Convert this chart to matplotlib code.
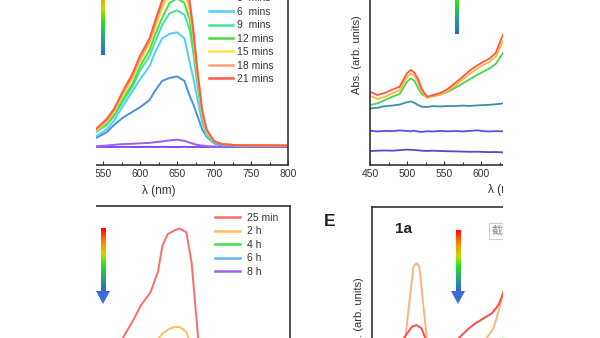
import matplotlib
matplotlib.use("Agg")
import matplotlib.pyplot as plt
import numpy as np
from matplotlib.colors import LinearSegmentedColormap
from matplotlib.patches import Rectangle, Polygon

plt.rcParams['font.family'] = ['Liberation Sans', 'DejaVu Sans']

W, H = 600, 338
INK = '#333333'

# ---- panel B: emission growth, 0-21 mins ----
wl_b = [530, 540, 555, 565, 577, 590, 600, 613, 620, 630, 640, 650, 660, 667, 672, 677, 684, 690, 700, 710, 730, 800]
b_labels = ['0  min', '1  min', '3  mins', '6  mins', '9  mins', '12 mins', '15 mins', '18 mins', '21 mins']
b_colors = ['#8a44ee', '#9a60f0', '#4a8fe6', '#52cdfb', '#3fe69a', '#45dc45', '#ffe23c', '#ffa070', '#ff5a46']
b_series = [
    [0.001, 0.001, 0.0, 0.0, 0.001, 0.0, 0.0, 0.001, 0.0, 0.001, 0.0, 0.0, 0.001, 0.0, 0.0, 0.001, 0.0, 0.0, 0.001, 0.0, 0.0, 0.0],
    [0.004, 0.005, 0.01, 0.015, 0.02, 0.022, 0.025, 0.028, 0.033, 0.038, 0.045, 0.05, 0.042, 0.03, 0.022, 0.015, 0.01, 0.006, 0.003, 0.002, 0.002, 0.002],
    [0.04, 0.06, 0.10, 0.15, 0.20, 0.24, 0.27, 0.32, 0.38, 0.45, 0.47, 0.48, 0.45, 0.35, 0.29, 0.22, 0.12, 0.07, 0.025, 0.01, 0.005, 0.005],
    [0.05, 0.07, 0.12, 0.18, 0.28, 0.38, 0.46, 0.55, 0.64, 0.74, 0.77, 0.78, 0.74, 0.58, 0.47, 0.34, 0.17, 0.08, 0.03, 0.015, 0.01, 0.01],
    [0.07, 0.10, 0.15, 0.21, 0.31, 0.41, 0.52, 0.62, 0.71, 0.83, 0.91, 0.93, 0.90, 0.80, 0.64, 0.44, 0.20, 0.09, 0.035, 0.02, 0.012, 0.01],
    [0.075, 0.105, 0.16, 0.22, 0.33, 0.43, 0.55, 0.66, 0.76, 0.88, 0.98, 1.01, 0.98, 0.87, 0.70, 0.48, 0.22, 0.10, 0.04, 0.02, 0.012, 0.01],
    [0.08, 0.11, 0.17, 0.24, 0.35, 0.46, 0.58, 0.70, 0.80, 0.94, 1.05, 1.09, 1.05, 0.93, 0.75, 0.51, 0.23, 0.10, 0.04, 0.02, 0.012, 0.01],
    [0.085, 0.115, 0.18, 0.25, 0.37, 0.48, 0.60, 0.72, 0.83, 0.97, 1.09, 1.13, 1.09, 0.96, 0.77, 0.53, 0.24, 0.11, 0.04, 0.02, 0.012, 0.01],
    [0.09, 0.12, 0.19, 0.26, 0.38, 0.50, 0.62, 0.74, 0.85, 1.00, 1.13, 1.18, 1.14, 1.00, 0.80, 0.55, 0.25, 0.12, 0.04, 0.02, 0.012, 0.01],
]

# ---- panel C: absorbance, same time series ----
wl_c = [450, 460, 470, 480, 490, 500, 505, 510, 515, 520, 527, 535, 545, 555, 565, 575, 585, 595, 605, 612, 620, 630, 640]
c_colors = ['#6442c4', '#5552e0', '#3a8fa8', '#46d646', '#ffb447', '#ff573c']
c_series = [
    [0.127, 0.130, 0.132, 0.130, 0.135, 0.140, 0.138, 0.136, 0.134, 0.130, 0.128, 0.130, 0.127, 0.125, 0.124, 0.122, 0.120, 0.121, 0.118, 0.117, 0.118, 0.115, 0.116],
    [0.312, 0.305, 0.310, 0.308, 0.314, 0.310, 0.306, 0.312, 0.304, 0.301, 0.307, 0.305, 0.310, 0.306, 0.309, 0.305, 0.310, 0.315, 0.307, 0.305, 0.308, 0.306, 0.310],
    [0.515, 0.520, 0.535, 0.540, 0.550, 0.570, 0.578, 0.565, 0.545, 0.530, 0.527, 0.535, 0.532, 0.537, 0.535, 0.540, 0.537, 0.542, 0.545, 0.548, 0.552, 0.560, 0.565],
    [0.545, 0.560, 0.590, 0.620, 0.645, 0.757, 0.788, 0.765, 0.700, 0.645, 0.615, 0.625, 0.640, 0.665, 0.700, 0.740, 0.780, 0.820, 0.855, 0.880, 0.920, 1.020, 1.120],
    [0.630, 0.600, 0.620, 0.650, 0.680, 0.800, 0.830, 0.810, 0.750, 0.665, 0.610, 0.625, 0.640, 0.670, 0.720, 0.775, 0.830, 0.875, 0.915, 0.940, 0.985, 1.130, 1.240],
    [0.666, 0.636, 0.655, 0.685, 0.712, 0.834, 0.864, 0.840, 0.780, 0.690, 0.621, 0.636, 0.655, 0.690, 0.745, 0.800, 0.860, 0.905, 0.945, 0.970, 1.020, 1.190, 1.300],
]

# ---- panel D: emission decay, 25 min - 8 h ----
wl_d = [530, 560, 575, 591, 600, 613, 623, 629, 636, 645, 652, 661, 668, 677, 690, 710, 750, 800]
d_labels = ['25 min', '2 h', '4 h', '6 h', '8 h']
d_colors = ['#ff6b6b', '#ffbe5c', '#45dc45', '#5ab8f8', '#9b66ea']
d_series = [
    [0.20, 0.38, 0.49, 0.60, 0.67, 0.74, 0.85, 0.99, 1.05, 1.07, 1.08, 1.06, 0.90, 0.49, 0.20, 0.05, 0.01, 0.01],
    [0.08, 0.18, 0.24, 0.31, 0.36, 0.42, 0.49, 0.52, 0.54, 0.555, 0.555, 0.53, 0.44, 0.30, 0.10, 0.03, 0.01, 0.01],
    [0.05, 0.10, 0.13, 0.17, 0.20, 0.23, 0.27, 0.29, 0.30, 0.31, 0.31, 0.30, 0.25, 0.17, 0.06, 0.02, 0.01, 0.01],
    [0.03, 0.06, 0.08, 0.10, 0.12, 0.14, 0.16, 0.17, 0.18, 0.19, 0.19, 0.18, 0.15, 0.10, 0.04, 0.01, 0.005, 0.005],
    [0.01, 0.02, 0.03, 0.04, 0.05, 0.06, 0.07, 0.07, 0.08, 0.08, 0.08, 0.08, 0.06, 0.04, 0.02, 0.01, 0.005, 0.005],
]

# ---- panel E: absorbance of 1a ----
wl_e_orange = [450, 480, 490, 495, 500, 506, 510, 514, 519, 524, 530, 550, 580, 600, 605, 614, 621, 628, 640]
e_orange = [0.30, 0.32, 0.38, 0.484, 0.66, 0.875, 0.893, 0.875, 0.68, 0.484, 0.38, 0.33, 0.36, 0.43, 0.484, 0.538, 0.629, 0.747, 0.95]
wl_e_red = [450, 480, 493, 504, 510, 517, 522, 530, 545, 555, 567, 581, 590, 601, 612, 621, 628, 640]
e_red = [0.35, 0.38, 0.484, 0.547, 0.556, 0.538, 0.484, 0.43, 0.42, 0.44, 0.484, 0.538, 0.566, 0.593, 0.62, 0.666, 0.738, 0.85]
wl_e_green = [450, 500, 520, 580, 620, 628, 640]
e_green = [0.20, 0.25, 0.22, 0.30, 0.42, 0.49, 0.60]

rainbow = LinearSegmentedColormap.from_list(
    'rainbow_arrow', ['#ff0000', '#ff8000', '#c8d800', '#20e020', '#2aa08a', '#2f5fd8'])


def px_rect(left, top, right, bottom):
    return [left / W, 1 - bottom / H, (right - left) / W, (bottom - top) / H]


def style_axes(ax):
    for s in ax.spines.values():
        s.set_color(INK)
        s.set_linewidth(1.2)
    ax.set_yticks([])
    ax.tick_params(axis='x', direction='in', length=3, width=0.8, colors=INK,
                   labelsize=7.5, pad=3)
    ax.tick_params(axis='x', which='minor', direction='in', length=2, width=0.8, colors=INK)


def gradient_arrow(fig, x, top, bottom, shaft_w, head_h=0, head_w=0):
    # tiny axes in pixel units holding the coloured shaft and a blue head
    pad = max(head_w, shaft_w) / 2 + 1
    ax = fig.add_axes(px_rect(x - pad, top, x + pad, bottom))
    ax.set_xlim(x - pad, x + pad)
    ax.set_ylim(bottom, top)
    ax.axis('off')
    shaft_end = bottom - head_h
    grad = np.linspace(0, 1, 200).reshape(-1, 1)
    ax.imshow(grad, cmap=rainbow, aspect='auto',
              extent=[x - shaft_w / 2, x + shaft_w / 2, shaft_end + 1, top])
    if head_h:
        ax.add_patch(Polygon([[x - head_w / 2, shaft_end], [x + head_w / 2, shaft_end], [x, bottom]],
                             closed=True, color='#3a6ad4', lw=0))


def legend_at(ax, loc, x, y, textpad, hlen):
    leg = ax.legend(loc=loc, bbox_to_anchor=(x / W, 1 - y / H),
                    bbox_transform=fig.transFigure, frameon=False, fontsize=7.5,
                    handlelength=hlen, handletextpad=textpad, labelspacing=0.33,
                    borderpad=0, borderaxespad=0)
    for t in leg.get_texts():
        t.set_color(INK)
    for h in leg.get_lines():
        h.set_linewidth(1.8)


fig = plt.figure(figsize=(6, 3.38), dpi=100)

# B
axb = fig.add_axes(px_rect(29, -60, 288, 165))
for lab, col, ys in zip(b_labels, b_colors, b_series):
    axb.plot(wl_b, ys, color=col, lw=1.4, label=lab)
axb.set_xlim(450, 800)
axb.set_ylim(-0.1224, 1.408)
axb.set_xticks([450, 500, 550, 600, 650, 700, 750, 800])
axb.set_xticks(np.arange(475, 800, 50), minor=True)
style_axes(axb)
axb.set_xlabel('λ (nm)', fontsize=8.5, color=INK, labelpad=4)
legend_at(axb, 'lower left', 209, 84, 0.4, 2.3)

# C
axc = fig.add_axes(px_rect(370, -55, 629, 165))
for col, ys in zip(c_colors, c_series):
    axc.plot(wl_c, ys, color=col, lw=1.3)
axc.set_xlim(450, 800)
axc.set_ylim(0, 2.0)
axc.set_xticks([450, 500, 550, 600, 650, 700, 750, 800])
axc.set_xticks(np.arange(475, 800, 50), minor=True)
style_axes(axc)
axc.set_xlabel('λ (nm)', fontsize=8.5, color=INK)
axc.xaxis.set_label_coords(0.522, -0.085)
axc.set_ylabel('Abs. (arb. units)', fontsize=8, color=INK, labelpad=6)

# D
axd = fig.add_axes(px_rect(29, 206, 290, 431))
for lab, col, ys in zip(d_labels, d_colors, d_series):
    axd.plot(wl_d, ys, color=col, lw=1.4, label=lab)
axd.set_xlim(450, 800)
axd.set_ylim(0, 1.2)
style_axes(axd)
axd.set_xticks([])
legend_at(axd, 'upper left', 215, 213, 0.65, 2.4)

# E
axe = fig.add_axes(px_rect(372, 207, 631, 427))
axe.plot(wl_e_green, e_green, color='#45dc45', lw=1.3)
axe.plot(wl_e_orange, e_orange, color='#ffb27a', lw=1.4)
axe.plot(wl_e_red, e_red, color='#ff4a4a', lw=1.4)
axe.set_xlim(450, 800)
axe.set_ylim(0, 1.2)
style_axes(axe)
axe.set_xticks([])
axe.set_ylabel('Abs. (arb. units)', fontsize=8, color=INK, labelpad=6)
axe.text(0.09, 0.9, '1a', transform=axe.transAxes, fontsize=11, fontweight='bold',
         color='#222222', va='center')

fig.text(330 / W, 1 - 222 / H, 'E', fontsize=12.5, fontweight='bold', color='#222222',
         ha='center', va='center')
fig.text(492 / W, 1 - 231 / H, '截图', fontsize=8, color='#8a8a8a', va='center',
         family=['Noto Sans CJK SC', 'DejaVu Sans'],
         bbox=dict(boxstyle='square,pad=0.25', fc='white', ec='#cfcfcf', lw=0.8))

# time arrows
gradient_arrow(fig, 103, -25, 55, 3.5)
gradient_arrow(fig, 457, -45, 34, 3.5)
gradient_arrow(fig, 103, 228, 304, 4.5, head_h=13, head_w=14)
gradient_arrow(fig, 458, 230, 304, 4.5, head_h=13, head_w=14)

# blank margins either side
for x0, x1 in [(0, 96), (503, 600)]:
    fig.add_artist(Rectangle((x0 / W, 0), (x1 - x0) / W, 1, transform=fig.transFigure,
                             facecolor='white', edgecolor='none', zorder=100))

fig.savefig('out.png', dpi=100, facecolor='white')
